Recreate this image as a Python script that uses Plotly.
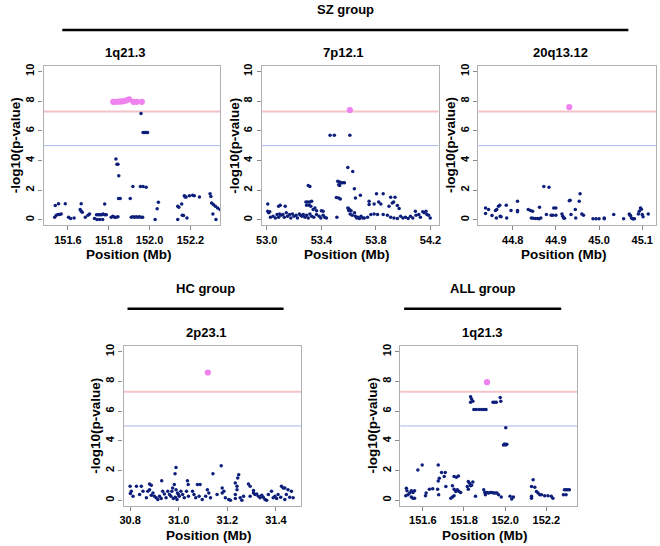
import plotly.graph_objects as go

# --- y axis (shared) ---
y_ticks = [0, 2, 4, 6, 8, 10]
gw_line = 7.3  # genome-wide significance
sug_line = 5.0  # suggestive

# --- SZ group, 1q21.3 ---
sz1q_x = [151.538, 151.554, 151.535, 151.543, 151.551, 151.559, 151.567, 151.587, 151.603, 151.613,
          151.630, 151.660, 151.665, 151.665, 151.670, 151.685, 151.698, 151.706, 151.740, 151.748,
          151.756, 151.764, 151.772, 151.780, 151.788, 151.730, 151.742, 151.755, 151.770, 151.780,
          151.812, 151.820, 151.828, 151.836, 151.845, 151.835, 151.840, 151.845, 151.849, 151.848,
          151.856, 151.905, 151.918, 151.955, 151.968, 151.983, 151.910, 151.918, 151.926, 151.934,
          151.942, 151.950, 151.958, 151.966, 151.958, 151.968, 151.975, 151.983, 151.990, 152.027,
          152.037, 152.043, 152.138, 152.143, 152.157, 152.160, 152.166, 152.138, 152.183, 152.170,
          152.174, 152.179, 152.195, 152.211, 152.219, 152.244, 152.296, 152.300, 152.304, 152.312,
          152.322, 152.333, 152.345, 152.310, 152.325]
sz1q_y = [0.96, 1.09, 0.18, 0.31, 0.36, 0.36, 0.40, 1.09, 0.18, 0.09,
          0.13, 0.69, 0.58, 1.09, 0.51, 0.18, 0.31, 0.40, 0.35, 0.35,
          0.35, 0.35, 0.40, 0.35, 0.35, 0.09, 0.02, 0.02, 0.02, 1.07,
          0.18, 0.24, 0.18, 0.18, 0.20, 4.10, 3.75, 3.75, 2.97, 1.43,
          1.43, 1.43, 2.25, 2.25, 2.25, 2.20, 0.18, 0.20, 0.18, 0.20,
          0.18, 0.20, 0.18, 0.18, 7.16, 5.88, 5.88, 5.88, 5.88, 0.02,
          0.74, 1.18, 0.92, 0.85, 1.07, 0.31, 0.29, 0.02, 0.13, 1.63,
          1.54, 1.54, 1.63, 1.65, 1.63, 1.54, 1.76, 1.58, 1.14, 1.03,
          0.92, 0.80, 0.69, 0.40, 0.02]
sz1q_hit_x = [151.822, 151.836, 151.850, 151.862, 151.874, 151.887, 151.900, 151.921, 151.937, 151.962]
sz1q_hit_y = [7.95, 7.95, 7.97, 7.98, 8.00, 8.05, 8.12, 7.95, 7.95, 7.95]

# --- SZ group, 7p12.1 ---
sz7p_x = [53.007, 53.014, 53.022, 53.027, 53.046, 53.063, 53.075, 53.087, 53.094, 53.104,
          53.118, 53.128, 53.143, 53.152, 53.167, 53.176, 53.188, 53.200, 53.215, 53.225,
          53.239, 53.249, 53.258, 53.268, 53.280, 53.292, 53.304, 53.316, 53.329, 53.345,
          53.365, 53.384, 53.396, 53.413, 53.425, 53.437, 53.514, 53.601, 53.611, 53.626,
          53.643, 53.650, 53.659, 53.669, 53.679, 53.691, 53.703, 53.715, 53.739, 53.763,
          53.787, 53.812, 53.853, 53.884, 53.908, 53.932, 53.957, 53.981, 53.998, 54.017,
          54.036, 54.053, 54.070, 54.089, 54.094, 54.114, 54.126, 54.143, 54.155, 54.167,
          54.174, 54.186, 54.198,
          53.594, 53.630, 53.520, 53.534, 53.545, 53.557, 53.569, 53.527, 53.534, 53.304,
          53.316, 53.510, 53.527, 53.539, 53.642, 53.650, 53.686, 53.594, 53.606, 53.618,
          53.600, 53.804, 53.853, 53.750, 53.787, 53.820, 53.836, 53.750, 53.908, 53.940,
          53.920, 53.930, 53.957, 53.896, 53.970, 53.287, 53.300, 53.316, 53.329, 53.292,
          53.311, 53.323, 53.340, 53.353, 53.365, 53.400, 53.413, 53.007, 53.087, 53.099,
          53.135, 53.464, 53.495, 53.609]
sz7p_y = [0.58, 0.47, 0.54, 0.18, 0.25, 0.13, 0.36, 0.18, 0.40, 0.31,
          0.36, 0.18, 0.47, 0.25, 0.36, 0.13, 0.40, 0.25, 0.31, 0.13,
          0.40, 0.31, 0.25, 0.36, 0.18, 0.31, 0.13, 0.40, 0.25, 0.18,
          0.36, 0.25, 0.13, 0.31, 0.18, 0.13, 0.18, 0.63, 0.40, 0.31,
          0.47, 0.25, 0.13, 0.18, 0.09, 0.25, 0.13, 0.13, 0.18, 0.36,
          0.40, 0.36, 0.36, 0.31, 0.18, 0.13, 0.09, 0.25, 0.13, 0.18,
          0.09, 0.25, 0.13, 0.58, 0.31, 0.36, 0.18, 0.54, 0.47, 0.58,
          0.36, 0.31, 0.13,
          3.53, 3.26, 2.60, 2.55, 2.50, 2.50, 2.50, 2.37, 2.32, 2.32,
          2.25, 1.50, 1.47, 1.40, 2.10, 1.47, 1.65, 0.80, 0.69, 0.62,
          0.75, 1.76, 1.76, 1.25, 1.07, 1.20, 1.07, 1.03, 1.52, 1.52,
          1.14, 1.20, 0.96, 0.92, 0.76, 1.20, 1.20, 1.20, 1.25, 0.98,
          0.98, 0.92, 0.69, 0.80, 0.62, 0.62, 0.58, 1.07, 0.92, 0.98,
          0.92, 5.70, 5.70, 5.70]
sz7p_hit_x = [53.609]
sz7p_hit_y = [7.40]

# --- SZ group, 20q13.12 ---
sz20q_x = [44.737, 44.737, 44.744, 44.752, 44.760, 44.763, 44.767, 44.770, 44.762, 44.771,
           44.773, 44.785, 44.786, 44.796, 44.811, 44.811, 44.811, 44.836, 44.841, 44.846,
           44.843, 44.847, 44.852, 44.857, 44.861, 44.865, 44.862, 44.872, 44.878, 44.884,
           44.889, 44.893, 44.895, 44.900, 44.900, 44.914, 44.916, 44.918, 44.920, 44.931,
           44.933, 44.935, 44.945, 44.946, 44.954, 44.956, 44.960, 44.964, 44.986, 44.993,
           45.000, 45.012, 45.012, 45.034, 45.057, 45.070, 45.071, 45.073, 45.075, 45.078,
           45.080, 45.082, 45.091, 45.093, 45.096, 45.098, 45.100, 45.102, 45.114]
sz20q_y = [0.80, 0.42, 0.69, 0.29, 0.63, 0.69, 0.92, 0.98, 0.13, 0.25,
           0.20, 0.98, 0.13, 0.63, 1.25, 0.63, 0.54, 0.69, 0.63, 0.58,
           0.13, 0.10, 0.09, 0.09, 0.07, 0.13, 0.85, 2.25, 0.36, 2.19,
           0.31, 0.31, 0.80, 0.80, 0.31, 0.40, 0.25, 0.13, 0.10, 1.29,
           1.32, 0.36, 0.69, 0.13, 1.25, 1.76, 0.40, 0.31, 0.07, 0.07,
           0.07, 0.13, 0.07, 0.36, 0.07, 0.40, 0.33, 0.29, 0.13, 0.07,
           0.07, 0.07, 0.40, 0.58, 0.80, 0.72, 0.36, 0.20, 0.40]
sz20q_hit_x = [44.931]
sz20q_hit_y = [7.60]

# --- HC group, 2p23.1 ---
hc2p_x = [30.989, 30.985, 31.175, 31.141, 31.247, 31.243, 30.930, 31.036, 31.039, 31.077,
          31.088, 30.880, 30.887, 30.800, 30.805, 30.801, 30.826, 30.846, 31.233, 31.240,
          31.240, 31.233, 31.287, 31.294, 31.308, 31.423, 31.430, 31.437, 31.450, 31.464,
          31.179, 31.186, 31.179, 31.118, 31.124, 30.982, 30.975, 30.972, 30.989, 30.995,
          31.002, 31.009, 31.016, 30.853, 30.873, 30.880, 30.894, 30.887, 30.900, 30.907,
          30.914, 30.921, 30.934, 30.941, 30.955, 30.962, 31.057, 31.063, 31.070, 31.084,
          31.097, 31.111, 31.192, 31.206, 31.213, 31.253, 31.260, 31.267, 31.308, 31.314,
          31.321, 31.328, 31.335, 31.342, 31.348, 31.355, 31.362, 31.389, 31.396, 31.403,
          31.409, 31.420, 31.437, 31.443, 31.457, 31.471, 30.968, 30.978, 30.986, 30.993,
          30.999, 31.023, 31.032, 31.040, 30.948, 30.928, 30.867, 30.839, 30.812, 31.158,
          31.131, 31.369, 31.382, 31.294, 31.233]
hc2p_y = [2.20, 1.78, 2.32, 1.78, 1.71, 1.49, 1.31, 1.31, 1.05, 1.05,
          1.05, 1.09, 1.00, 0.94, 0.60, 0.45, 0.94, 0.94, 1.16, 0.94,
          0.71, 0.38, 1.09, 0.94, 0.65, 0.94, 0.82, 0.82, 0.71, 0.60,
          0.82, 0.60, 0.49, 0.71, 0.49, 1.05, 0.82, 0.60, 0.71, 0.49,
          0.27, 0.60, 0.38, 0.60, 0.60, 0.71, 0.49, 0.33, 0.27, 0.16,
          0.04, 0.27, 0.60, 0.42, 0.60, 0.38, 0.60, 0.38, 0.16, 0.27,
          0.04, 0.27, 0.16, 0.04, 0.00, 0.16, 0.00, 0.27, 0.49, 0.38,
          0.42, 0.27, 0.16, 0.33, 0.20, 0.04, 0.00, 0.16, 0.27, 0.11,
          0.38, 0.20, 0.04, 0.38, 0.20, 0.16, 0.27, 0.11, 0.20, 0.04,
          0.38, 0.16, 0.60, 0.27, 0.16, 0.11, 0.16, 0.38, 0.27, 0.38,
          0.16, 0.38, 0.60, 0.27, 0.11]
hc2p_hit_x = [31.120]
hc2p_hit_y = [8.60]

# --- ALL group, 1q21.3 ---
all1q_x = [151.832, 151.837, 151.843, 151.832, 151.848, 151.859, 151.872, 151.885, 151.896, 151.907,
           151.941, 151.949, 151.957, 151.976, 151.979, 152.003, 151.992, 151.997, 152.003, 152.008,
           151.576, 151.597, 151.675, 151.680, 151.691, 151.709, 151.704, 151.752, 151.763, 151.773,
           151.675, 151.712, 151.744, 151.752, 151.821, 151.827, 151.837, 151.843, 151.816, 151.821,
           151.832, 151.856, 151.760, 151.768, 151.776, 151.784, 151.752, 151.744, 151.736, 151.520,
           151.523, 151.528, 151.536, 151.544, 151.552, 151.560, 151.544, 151.552, 151.560, 151.517,
           151.616, 151.613, 151.632, 151.648, 151.672, 151.677, 151.896, 151.901, 151.907, 151.912,
           151.920, 151.928, 151.936, 151.944, 151.952, 151.960, 151.904, 151.968, 151.981, 152.024,
           152.032, 152.040, 152.136, 152.128, 152.144, 152.128, 152.128, 152.152, 152.160, 152.168,
           152.176, 152.192, 152.208, 152.224, 152.232, 152.283, 152.288, 152.296, 152.304, 152.312,
           152.296]
all1q_y = [6.97, 6.81, 6.66, 6.59, 6.10, 6.10, 6.10, 6.10, 6.10, 6.10,
           6.59, 6.59, 6.59, 6.92, 6.66, 4.88, 3.72, 3.78, 3.72, 3.76,
           2.03, 2.37, 2.37, 1.48, 1.86, 1.86, 1.59, 1.59, 1.54, 1.63,
           1.30, 0.92, 0.97, 0.74, 1.26, 1.14, 1.01, 1.23, 0.92, 0.74,
           0.97, 0.26, 0.59, 0.70, 0.59, 0.52, 0.30, 0.21, 0.14, 0.81,
           0.63, 0.37, 0.48, 0.63, 0.52, 0.63, 0.21, 0.14, 0.14, 0.30,
           0.48, 0.30, 0.74, 0.77, 0.74, 0.37, 0.70, 0.52, 0.48, 0.52,
           0.48, 0.52, 0.52, 0.48, 0.48, 0.48, 0.37, 0.37, 0.21, 0.26,
           0.08, 0.21, 1.37, 0.92, 0.88, 0.26, 0.14, 0.59, 0.48, 0.37,
           0.37, 0.30, 0.30, 0.26, 0.14, 0.37, 0.70, 0.70, 0.70, 0.70,
           0.37]
all1q_hit_x = [151.912]
all1q_hit_y = [7.95]

# --- panel setup ---
W, H = 660, 546
DOT = "#0d1f7a"
HIT = "#ee82ee"
FONT = "Liberation Sans"

panels = [
    # x data, y data, hit x, hit y, x ticks, x range, y range, box px (left, right, top, bottom), title
    (sz1q_x, sz1q_y, sz1q_hit_x, sz1q_hit_y, [151.6, 151.8, 152.0, 152.2], [151.4805, 152.3466],
     [-0.36, 10.38], (38, 217, 64, 224), "1q21.3"),
    (sz7p_x, sz7p_y, sz7p_hit_x, sz7p_hit_y, [53.0, 53.4, 53.8, 54.2], [52.964, 54.26],
     [-0.36, 10.38], (259, 438, 64, 224), "7p12.1"),
    (sz20q_x, sz20q_y, sz20q_hit_x, sz20q_hit_y, [44.8, 44.9, 45.0, 45.1], [44.72, 45.132],
     [-0.36, 10.38], (478, 658, 64, 224), "20q13.12"),
    (hc2p_x, hc2p_y, hc2p_hit_x, hc2p_hit_y, [30.8, 31.0, 31.2, 31.4], [30.773, 31.505],
     [-0.4, 10.4], (119, 299, 345, 506), "2p23.1"),
    (all1q_x, all1q_y, all1q_hit_x, all1q_hit_y, [151.6, 151.8, 152.0, 152.2], [151.49, 152.349],
     [-0.4, 10.4], (399, 578, 345, 506), "1q21.3"),
]


def px(x):
    return x / W


def py(y):
    return 1 - y / H


def label(text, x, y, size=13, angle=0):
    return dict(text=text, x=px(x), y=py(y), xref="paper", yref="paper", showarrow=False,
                xanchor="center", yanchor="middle", textangle=angle,
                font=dict(family=FONT, size=size, color="black", weight="bold"))


fig = go.Figure()
annotations = []
shapes = []

for i, (xs, ys, hx, hy, xt, xr, yr, box, title) in enumerate(panels):
    n = "" if i == 0 else str(i + 1)
    left, right, top, bottom = box
    # threshold lines, in data coordinates of this panel
    for yv, col, w in [(gw_line, "#f4c3c8", 2), (sug_line, "#a9b5f0", 1)]:
        shapes.append(dict(type="line", xref="x" + n, yref="y" + n, x0=xr[0], x1=xr[1],
                           y0=yv, y1=yv, line=dict(color=col, width=w), layer="below"))
    fig.add_trace(go.Scatter(x=xs, y=ys, mode="markers", xaxis="x" + n, yaxis="y" + n,
                             marker=dict(color=DOT, size=3.5), showlegend=False))
    fig.add_trace(go.Scatter(x=hx, y=hy, mode="markers", xaxis="x" + n, yaxis="y" + n,
                             marker=dict(color=HIT, size=6.2), showlegend=False))
    axis_common = dict(showgrid=False, zeroline=False, showline=True, mirror=True,
                       linecolor="#b0b0b0", linewidth=1.3, ticks="outside", ticklen=4,
                       tickcolor="#8a8a8a", tickwidth=1, showspikes=False,
                       tickfont=dict(family=FONT, size=11, color="black", weight="bold"))
    fig.update_layout({
        "xaxis" + n: dict(domain=[px(left), px(right)], range=xr, tickvals=xt,
                          ticktext=[f"{v:.1f}" for v in xt], anchor="y" + n, **axis_common),
        "yaxis" + n: dict(domain=[py(bottom), py(top)], range=yr, tickvals=y_ticks,
                          tickangle=-90, anchor="x" + n, **axis_common),
    })
    annotations.append(label(title, (left + right) / 2 - 7, top - 13))
    annotations.append(label("Position (Mb)", (left + right) / 2 - 4, bottom + 29, 13.5))
    annotations.append(label("-log10(p-value)", left - 28, (top + bottom) / 2, 13.5, -90))

# group headers
groups = [("SZ group", 57, 630, 8, 28), ("HC group", 123, 281, 288, 308),
          ("ALL group", 403, 562, 288, 308)]
for name, x0, x1, ty, ly in groups:
    annotations.append(label(name, (x0 + x1) / 2, ty))
    shapes.append(dict(type="line", xref="paper", yref="paper", x0=px(x0), x1=px(x1),
                       y0=py(ly), y1=py(ly), line=dict(color="black", width=2.5)))

fig.update_layout(width=W, height=H, margin=dict(l=0, r=0, t=0, b=0),
                  paper_bgcolor="white", plot_bgcolor="white", hovermode=False,
                  annotations=annotations, shapes=shapes)

# the page body has a default 8px margin; drop it so the figure sits at the window origin
fig.write_html("out.html", config={"displayModeBar": False},
               post_script="document.body.style.margin = '0'; document.body.style.overflow = 'hidden';")
